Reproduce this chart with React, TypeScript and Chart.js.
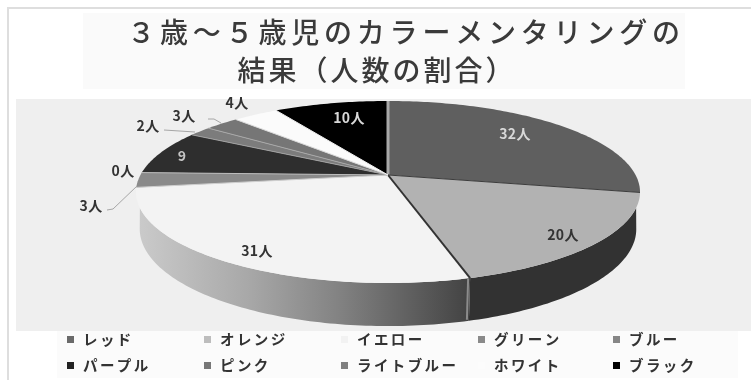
import { useEffect, useRef } from "react";
import { Chart, registerables } from "chart.js";

Chart.register(...registerables);

const titleLines = ["３歳～５歳児のカラーメンタリングの", "結果（人数の割合）"];
const categories = ["レッド", "オレンジ", "イエロー", "グリーン", "ブルー", "パープル", "ピンク", "ライトブルー", "ホワイト", "ブラック"];
const counts = [32, 20, 31, 3, 0, 9, 2, 3, 4, 10];
const valueLabels = ["32人", "20人", "31人", "3人", "0人", "9", "2人", "3人", "4人", "10人"];
const sliceColors = ["#5f5f5f", "#b2b2b2", "#f3f3f3", "#8a8a8a", "#808080", "#2e2e2e", "#7c7c7c", "#767676", "#fbfbfb", "#000000"];
const legendColors = ["#6a6a6a", "#bdbdbd", "#f2f2f2", "#8a8a8a", "#868686", "#222222", "#777777", "#808080", "#fcfcfc", "#000000"];
const edgeColors = ["#a8a8a8", "#3c3c3c", "#333333", "#cfcfcf", "#808080", "#bdbdbd", "#a0a0a0", "#a8a8a8", "#d8d8d8", "#f0f0f0"];
const edgeWidths = [3, 1, 2, 1, 0, 1, 1, 1, 1, 1];

const DEG = Math.PI / 180;
const FONT = '"Noto Sans CJK JP", "Noto Sans", sans-serif';

// Perspective of the lid and of the smaller lower rim, relative to the pie's radius.
const PERSPECTIVE = 0.1867;
const LID_X = 3.301;
const LID_Y = 1.171;
const BASE_X = 3.252;
const BASE_Y = 1.248;
const BASE_DROP = 36;

// Angular limits of the visible outer wall, measured clockwise from the top.
const BASE_SPAN = [100.8, 259.2];
const LID_SPAN = [110.5, 249.5];

const rimPoint = (arc: any, deg: number, lower: boolean) => {
  const t = deg * DEG;
  const w = 1 + PERSPECTIVE * Math.cos(t);
  const R = arc.outerRadius;
  const ax = R * (lower ? BASE_X : LID_X);
  const ay = R * (lower ? BASE_Y : LID_Y);
  return {
    x: arc.x + (ax * Math.sin(t)) / w,
    y: arc.y + (lower ? BASE_DROP : 0) - (ay * Math.cos(t)) / w,
  };
};

const traceRim = (ctx: CanvasRenderingContext2D, arc: any, from: number, to: number, lower: boolean) => {
  const steps = Math.max(2, Math.ceil(Math.abs(to - from)));
  for (let i = 0; i <= steps; i++) {
    const p = rimPoint(arc, from + ((to - from) * i) / steps, lower);
    ctx.lineTo(p.x, p.y);
  }
};

const sliceDegrees = (arc: any) => [arc.startAngle / DEG + 90, arc.endAngle / DEG + 90];

const spacedText = (ctx: any, text: string, x: number, y: number, font: string, color: string, spacing: number, align: CanvasTextAlign = "center") => {
  ctx.font = font;
  ctx.fillStyle = color;
  ctx.textAlign = align;
  ctx.textBaseline = "middle";
  ctx.letterSpacing = `${spacing}px`;
  ctx.fillText(text, x, y);
  ctx.letterSpacing = "0px";
};

const backdrop = {
  id: "backdrop",
  beforeDraw(chart: any) {
    const { ctx, width, height } = chart;
    ctx.save();
    ctx.fillStyle = "#ffffff";
    ctx.fillRect(0, 0, width, height);
    ctx.fillStyle = "#dedede";
    ctx.fillRect(7, 7, width - 7, 2);
    ctx.fillRect(7, 7, 2, height - 7);
    ctx.fillStyle = "#fafafa";
    ctx.fillRect(83, 13, 602, 76);
    ctx.fillStyle = "#efefef";
    ctx.fillRect(16, 99, width - 16, 232);
    ctx.fillStyle = "#fbfbfb";
    ctx.fillRect(57, 331, 681, 47);
    ctx.restore();
  },
};

const titleAndLegend = {
  id: "titleAndLegend",
  afterDraw(chart: any) {
    const { ctx } = chart;
    ctx.save();
    spacedText(ctx, titleLines[0], 406, 32, `500 28px ${FONT}`, "#3a3a3a", 4.8);
    spacedText(ctx, titleLines[1], 377, 70, `500 28px ${FONT}`, "#3a3a3a", 3);

    const columns = [70, 207, 344, 481, 616];
    const rows = [339, 365];
    categories.forEach((name, i) => {
      const x = columns[i % 5];
      const y = rows[Math.floor(i / 5)];
      ctx.fillStyle = legendColors[i];
      ctx.fillRect(x - 3, y - 3, 7, 7);
      spacedText(ctx, name, x + 13, y, `bold 14.5px ${FONT}`, "#333333", 2.4, "left");
    });
    ctx.restore();
  },
};

const perspectivePie = {
  id: "perspectivePie",
  beforeDatasetsDraw(chart: any) {
    const { ctx } = chart;
    const arcs = chart.getDatasetMeta(0).data;
    const first = arcs[0];
    ctx.save();

    // Outer wall, only where a slice faces the viewer.
    const leftEdge = rimPoint(first, LID_SPAN[1], false).x;
    const seamX = rimPoint(first, sliceDegrees(arcs[1])[1], true).x;
    const wallShades = [null, null, null];
    const yellowWall = ctx.createLinearGradient(leftEdge, 0, seamX, 0);
    yellowWall.addColorStop(0, "#cacaca");
    yellowWall.addColorStop(0.33, "#a8a8a8");
    yellowWall.addColorStop(0.6, "#838383");
    yellowWall.addColorStop(1, "#434343");
    wallShades[1] = "#323232" as any;
    wallShades[2] = yellowWall;
    arcs.forEach((arc: any, i: number) => {
      const shade = wallShades[i];
      if (!shade) return;
      const [a, b] = sliceDegrees(arc);
      ctx.beginPath();
      traceRim(ctx, arc, Math.max(a, LID_SPAN[0]), Math.min(b, LID_SPAN[1]), false);
      traceRim(ctx, arc, Math.min(b, BASE_SPAN[1]), Math.max(a, BASE_SPAN[0]), true);
      ctx.closePath();
      ctx.fillStyle = shade;
      ctx.fill();
    });

    // Narrow lit seam between the two front walls.
    const seamTop = rimPoint(first, sliceDegrees(arcs[1])[1], false);
    const seamBottom = rimPoint(first, sliceDegrees(arcs[1])[1], true);
    ctx.strokeStyle = "#8c8c8c";
    ctx.lineWidth = 2;
    ctx.beginPath();
    ctx.moveTo(seamTop.x - 2, seamTop.y + 1);
    ctx.lineTo(seamBottom.x - 2, seamBottom.y - 1);
    ctx.stroke();

    // Lid of the pie.
    arcs.forEach((arc: any) => {
      const [a, b] = sliceDegrees(arc);
      if (b - a <= 0) return;
      ctx.beginPath();
      ctx.moveTo(arc.x, arc.y);
      traceRim(ctx, arc, a, b, false);
      ctx.closePath();
      ctx.fillStyle = arc.options.backgroundColor;
      ctx.fill();
    });

    // Radial edge at the start of each slice.
    arcs.forEach((arc: any) => {
      const [a] = sliceDegrees(arc);
      if (!arc.options.borderWidth) return;
      const p = rimPoint(arc, a, false);
      ctx.strokeStyle = arc.options.borderColor;
      ctx.lineWidth = arc.options.borderWidth;
      ctx.beginPath();
      ctx.moveTo(arc.x, arc.y);
      ctx.lineTo(p.x, p.y);
      ctx.stroke();
    });

    // Leader lines of the labels placed outside the pie.
    ctx.strokeStyle = "#a6a6a6";
    ctx.lineWidth = 1;
    const leaders = [
      [[107, 210], [113, 209], [137, 186]],
      [[164, 130], [195, 132]],
      [[208, 119], [214, 119], [221, 123]],
    ];
    leaders.forEach((line) => {
      ctx.beginPath();
      line.forEach(([x, y], i) => (i ? ctx.lineTo(x, y) : ctx.moveTo(x, y)));
      ctx.stroke();
    });

    // Value labels.
    const spots = [
      [515, 134, "#d8d8d8"],
      [563, 235, "#333333"],
      [257, 251, "#333333"],
      [91, 206, "#333333"],
      [123, 171, "#333333"],
      [182, 156, "#c4c4c4"],
      [148, 126, "#333333"],
      [184, 116, "#333333"],
      [237, 103, "#333333"],
      [349, 118, "#d8d8d8"],
    ] as const;
    valueLabels.forEach((text, i) => {
      const [x, y, color] = spots[i];
      spacedText(ctx, text, x, y, `bold 14px ${FONT}`, color, 0.3);
    });

    ctx.restore();
    return false;
  },
};

export default function App() {
  const canvasRef = useRef<HTMLCanvasElement>(null);

  useEffect(() => {
    const chart = new Chart(canvasRef.current!, {
      type: "pie",
      data: {
        labels: categories,
        datasets: [
          {
            data: counts,
            backgroundColor: sliceColors,
            borderColor: edgeColors,
            borderWidth: edgeWidths,
          },
        ],
      },
      options: {
        responsive: false,
        animation: false,
        events: [],
        rotation: 0,
        layout: { padding: { left: 25, right: 0, top: 98.5, bottom: 128.5 } },
        plugins: {
          legend: { display: false },
          title: { display: false },
          tooltip: { enabled: false },
        },
      },
      plugins: [backdrop, perspectivePie, titleAndLegend],
    } as any);
    return () => chart.destroy();
  }, []);

  return (
    <div style={{ position: "fixed", left: 0, top: 0, width: 751, height: 380 }}>
      <canvas ref={canvasRef} width={751} height={380} style={{ display: "block" }} />
    </div>
  );
}
